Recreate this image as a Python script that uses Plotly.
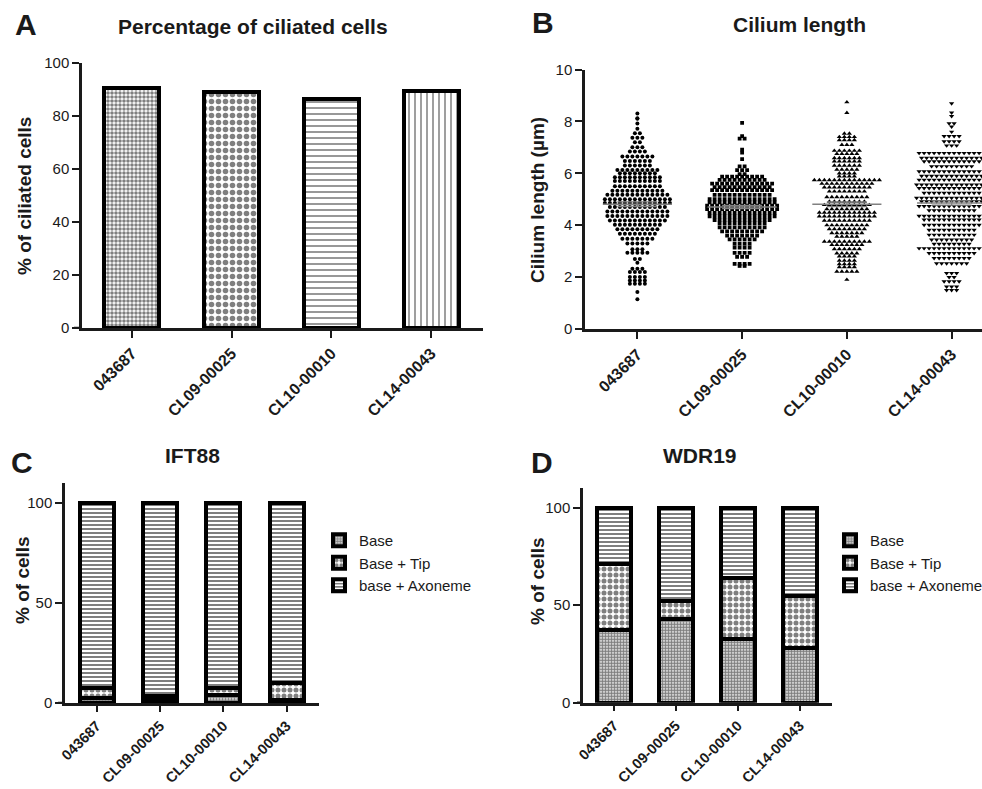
import numpy as np
import plotly.graph_objects as go

W, H = 982, 789

# ---------------- data ----------------
categories = ["043687", "CL09-00025", "CL10-00010", "CL14-00043"]

ciliated_pct = [90.5, 89.0, 86.5, 89.5]

len_043687 = [
    8.30,
    8.10, 8.12,
    7.92,
    7.72,
    7.54, 7.54,
    7.37, 7.37, 7.37,
    7.20, 7.20,
    7.00, 7.00, 7.00,
    6.84, 6.84, 6.84, 6.84,
    6.65, 6.65, 6.65, 6.65, 6.65, 6.65, 6.65,
    6.47, 6.47, 6.47, 6.47, 6.47, 6.47,
    6.30, 6.30, 6.30, 6.30, 6.30, 6.30,
    6.13, 6.13, 6.13, 6.13, 6.13, 6.13, 6.13, 6.13, 6.13,
    6.00, 6.00, 6.00, 6.00, 6.00, 6.00, 6.00, 6.00,
    5.85, 5.85, 5.85, 5.85, 5.85, 5.85, 5.85, 5.85, 5.85, 5.85,
    5.70, 5.70, 5.70, 5.70, 5.70, 5.70, 5.70, 5.70, 5.70, 5.70,
    5.50, 5.50, 5.50, 5.50, 5.50, 5.50, 5.50, 5.50, 5.50, 5.50,
    5.33, 5.33, 5.33, 5.33, 5.33, 5.33, 5.33, 5.33, 5.33, 5.33, 5.33,
    5.17, 5.17, 5.17, 5.17, 5.17, 5.17, 5.17, 5.17, 5.17, 5.17, 5.17, 5.17, 5.17,
    5.00, 5.00, 5.00, 5.00, 5.00, 5.00, 5.00, 5.00, 5.00, 5.00, 5.00, 5.00, 5.00, 5.00,
    4.86, 4.86, 4.86, 4.86, 4.86, 4.86, 4.86, 4.86, 4.86, 4.86, 4.86, 4.86, 4.86, 4.86,
    4.70, 4.70, 4.70, 4.70, 4.70, 4.70, 4.70, 4.70, 4.70, 4.70, 4.70, 4.70,
    4.53, 4.53, 4.53, 4.53, 4.53, 4.53, 4.53, 4.53, 4.53, 4.53, 4.53, 4.53, 4.53,
    4.35, 4.35, 4.35, 4.35, 4.35, 4.35, 4.35, 4.35, 4.35, 4.35, 4.35, 4.35, 4.35,
    4.18, 4.18, 4.18, 4.18, 4.18, 4.18, 4.18, 4.18, 4.18, 4.18, 4.18, 4.18,
    4.02, 4.02, 4.02, 4.02, 4.02, 4.02, 4.02, 4.02, 4.02, 4.02,
    3.84, 3.84, 3.84, 3.84, 3.84, 3.84, 3.84, 3.84, 3.84,
    3.67, 3.67, 3.67, 3.67, 3.67, 3.67, 3.67, 3.67,
    3.48, 3.48, 3.48, 3.48, 3.48, 3.48, 3.48,
    3.29, 3.29, 3.29, 3.29, 3.29,
    3.07, 3.07, 3.07,
    2.94, 2.94, 2.94, 2.94, 2.94,
    2.70, 2.70,
    2.55,
    2.32, 2.32, 2.32,
    2.20, 2.20, 2.20, 2.20,
    2.00, 2.00, 2.00, 2.00,
    1.87, 1.87, 1.87, 1.87,
    1.74, 1.74, 1.74, 1.74,
    1.43,
    1.15,
]

len_CL09 = [
    7.94,
    7.43,
    7.34, 7.34,
    6.91,
    6.80,
    6.55,
    6.27, 6.27,
    6.12, 6.12, 6.12,
    5.97, 5.97,
    5.87, 5.87, 5.87, 5.87, 5.87, 5.87, 5.87, 5.87, 5.87,
    5.75, 5.75, 5.75, 5.75, 5.75, 5.75, 5.75, 5.75, 5.75, 5.75,
    5.60, 5.60, 5.60, 5.60, 5.60, 5.60, 5.60, 5.60, 5.60, 5.60, 5.60, 5.60, 5.60,
    5.47, 5.47, 5.47, 5.47, 5.47, 5.47, 5.47, 5.47, 5.47, 5.47, 5.47, 5.47,
    5.35, 5.35, 5.35, 5.35, 5.35, 5.35, 5.35, 5.35, 5.35, 5.35, 5.35, 5.35, 5.35,
    5.17, 5.17, 5.17, 5.17, 5.17, 5.17, 5.17, 5.17, 5.17, 5.17, 5.17, 5.17,
    5.00, 5.00, 5.00, 5.00, 5.00, 5.00, 5.00, 5.00, 5.00, 5.00, 5.00, 5.00, 5.00, 5.00,
    4.88, 4.88, 4.88, 4.88, 4.88, 4.88, 4.88, 4.88, 4.88, 4.88, 4.88, 4.88, 4.88, 4.88,
    4.75, 4.75, 4.75, 4.75, 4.75, 4.75, 4.75, 4.75, 4.75, 4.75, 4.75, 4.75, 4.75, 4.75, 4.75,
    4.62, 4.62, 4.62, 4.62, 4.62, 4.62, 4.62, 4.62, 4.62, 4.62, 4.62, 4.62, 4.62, 4.62, 4.62,
    4.47, 4.47, 4.47, 4.47, 4.47, 4.47, 4.47, 4.47, 4.47, 4.47, 4.47, 4.47, 4.47, 4.47,
    4.34, 4.34, 4.34, 4.34, 4.34, 4.34, 4.34, 4.34, 4.34, 4.34, 4.34, 4.34, 4.34, 4.34,
    4.20, 4.20, 4.20, 4.20, 4.20, 4.20, 4.20, 4.20, 4.20, 4.20, 4.20, 4.20,
    4.07, 4.07, 4.07, 4.07, 4.07, 4.07, 4.07, 4.07, 4.07, 4.07,
    3.92, 3.92, 3.92, 3.92, 3.92, 3.92, 3.92, 3.92, 3.92, 3.92,
    3.76, 3.76, 3.76, 3.76, 3.76, 3.76, 3.76, 3.76, 3.76,
    3.60, 3.60, 3.60, 3.60, 3.60, 3.60, 3.60,
    3.45, 3.45, 3.45, 3.45, 3.45, 3.45,
    3.29, 3.29, 3.29, 3.29,
    3.14, 3.14, 3.14, 3.14,
    2.93, 2.93, 2.93, 2.93,
    2.78, 2.78, 2.78,
    2.51, 2.51, 2.51, 2.51,
    2.43, 2.43,
]

len_CL10 = [
    8.74,
    8.33,
    7.53, 7.53,
    7.40, 7.40, 7.40, 7.40,
    7.28, 7.28, 7.28, 7.28,
    7.10, 7.10, 7.10,
    6.87, 6.87, 6.87, 6.87, 6.87, 6.87,
    6.75, 6.75, 6.75, 6.75, 6.75,
    6.59, 6.59, 6.59, 6.59, 6.59, 6.59,
    6.46, 6.46, 6.46, 6.46, 6.46, 6.46,
    6.30, 6.30, 6.30, 6.30, 6.30, 6.30,
    6.14, 6.14, 6.14, 6.14, 6.14,
    6.00, 6.00, 6.00, 6.00,
    5.88, 5.88, 5.88, 5.88,
    5.74, 5.74, 5.74, 5.74, 5.74, 5.74, 5.74, 5.74, 5.74, 5.74, 5.74, 5.74, 5.74, 5.74,
    5.60, 5.60, 5.60, 5.60, 5.60, 5.60, 5.60, 5.60, 5.60, 5.60, 5.60,
    5.46, 5.46, 5.46, 5.46, 5.46, 5.46, 5.46, 5.46, 5.46, 5.46,
    5.30, 5.30, 5.30, 5.30, 5.30, 5.30, 5.30, 5.30,
    5.08, 5.08, 5.08, 5.08, 5.08, 5.08, 5.08, 5.08, 5.08,
    4.91, 4.91, 4.91, 4.91, 4.91, 4.91, 4.91, 4.91,
    4.78, 4.78, 4.78, 4.78, 4.78, 4.78, 4.78, 4.78, 4.78, 4.78,
    4.62, 4.62, 4.62, 4.62, 4.62, 4.62, 4.62, 4.62, 4.62,
    4.49, 4.49, 4.49, 4.49, 4.49, 4.49, 4.49, 4.49, 4.49, 4.49, 4.49, 4.49,
    4.34, 4.34, 4.34, 4.34, 4.34, 4.34, 4.34, 4.34, 4.34, 4.34, 4.34, 4.34,
    4.18, 4.18, 4.18, 4.18, 4.18, 4.18, 4.18, 4.18, 4.18, 4.18,
    4.00, 4.00, 4.00, 4.00, 4.00, 4.00, 4.00, 4.00, 4.00,
    3.85, 3.85, 3.85, 3.85, 3.85, 3.85, 3.85, 3.85,
    3.70, 3.70, 3.70, 3.70, 3.70, 3.70, 3.70,
    3.56, 3.56, 3.56, 3.56, 3.56,
    3.37, 3.37, 3.37, 3.37, 3.37, 3.37, 3.37, 3.37, 3.37, 3.37,
    3.24, 3.24, 3.24, 3.24, 3.24, 3.24, 3.24,
    3.08, 3.08, 3.08, 3.08, 3.08, 3.08,
    2.92, 2.92, 2.92, 2.92, 2.92,
    2.80, 2.80, 2.80, 2.80,
    2.64, 2.64, 2.64, 2.64,
    2.50, 2.50, 2.50, 2.50,
    2.39, 2.39, 2.39, 2.39,
    2.21, 2.21, 2.21, 2.21, 2.21,
    1.90,
]

len_CL14 = [
    8.69,
    8.34,
    8.20,
    7.92, 7.92,
    7.80,
    7.60,
    7.43, 7.43, 7.43, 7.43,
    7.23, 7.23, 7.23, 7.23,
    7.07, 7.07, 7.07,
    6.78, 6.78, 6.78, 6.78, 6.78, 6.78, 6.78, 6.78, 6.78, 6.78, 6.78, 6.78, 6.78, 6.78,
    6.59, 6.59, 6.59, 6.59, 6.59, 6.59, 6.59, 6.59, 6.59, 6.59, 6.59, 6.59, 6.59,
    6.46, 6.46, 6.46, 6.46, 6.46, 6.46, 6.46, 6.46, 6.46, 6.46, 6.46, 6.46,
    6.27, 6.27, 6.27, 6.27, 6.27, 6.27, 6.27, 6.27, 6.27,
    6.07, 6.07, 6.07, 6.07, 6.07, 6.07, 6.07, 6.07, 6.07, 6.07, 6.07, 6.07, 6.07, 6.07,
    5.90, 5.90, 5.90, 5.90, 5.90, 5.90, 5.90, 5.90, 5.90, 5.90, 5.90, 5.90, 5.90,
    5.75, 5.75, 5.75, 5.75, 5.75, 5.75, 5.75, 5.75, 5.75, 5.75, 5.75, 5.75, 5.75, 5.75,
    5.56, 5.56, 5.56, 5.56, 5.56, 5.56, 5.56, 5.56, 5.56, 5.56, 5.56, 5.56, 5.56, 5.56, 5.56,
    5.43, 5.43, 5.43, 5.43, 5.43, 5.43, 5.43, 5.43, 5.43, 5.43, 5.43, 5.43, 5.43, 5.43,
    5.24, 5.24, 5.24, 5.24, 5.24, 5.24, 5.24, 5.24, 5.24, 5.24, 5.24, 5.24,
    5.05, 5.05, 5.05, 5.05, 5.05, 5.05, 5.05, 5.05, 5.05, 5.05, 5.05, 5.05, 5.05, 5.05, 5.05,
    4.92, 4.92, 4.92, 4.92, 4.92, 4.92, 4.92, 4.92, 4.92, 4.92, 4.92, 4.92, 4.92,
    4.73, 4.73, 4.73, 4.73, 4.73, 4.73, 4.73, 4.73, 4.73, 4.73, 4.73, 4.73, 4.73, 4.73,
    4.57, 4.57, 4.57, 4.57, 4.57, 4.57, 4.57, 4.57, 4.57, 4.57,
    4.36, 4.36, 4.36, 4.36, 4.36, 4.36, 4.36, 4.36, 4.36, 4.36, 4.36, 4.36, 4.36, 4.36,
    4.21, 4.21, 4.21, 4.21, 4.21, 4.21, 4.21, 4.21, 4.21, 4.21, 4.21, 4.21,
    4.01, 4.01, 4.01, 4.01, 4.01, 4.01, 4.01, 4.01, 4.01, 4.01, 4.01, 4.01,
    3.82, 3.82, 3.82, 3.82, 3.82, 3.82, 3.82, 3.82, 3.82, 3.82,
    3.63, 3.63, 3.63, 3.63, 3.63, 3.63, 3.63, 3.63, 3.63, 3.63,
    3.44, 3.44, 3.44, 3.44, 3.44, 3.44, 3.44, 3.44, 3.44,
    3.28, 3.28, 3.28, 3.28, 3.28, 3.28, 3.28, 3.28,
    3.11, 3.11, 3.11, 3.11, 3.11, 3.11, 3.11, 3.11, 3.11, 3.11, 3.11, 3.11, 3.11, 3.11,
    2.92, 2.92, 2.92, 2.92, 2.92, 2.92, 2.92, 2.92, 2.92, 2.92,
    2.73, 2.73, 2.73, 2.73, 2.73, 2.73, 2.73, 2.73,
    2.53, 2.53, 2.53, 2.53, 2.53, 2.53, 2.53,
    2.15, 2.15, 2.15,
    2.00, 2.00,
    1.83, 1.83, 1.83, 1.83,
    1.63, 1.63, 1.63,
    1.50, 1.50, 1.50,
]

ift88_base = [2.5, 1.5, 4.0, 1.5]
ift88_tip = [5.0, 2.0, 3.5, 8.5]
ift88_axoneme = [92.5, 96.5, 92.5, 90.0]

wdr19_base = [37.0, 43.0, 32.5, 28.0]
wdr19_tip = [34.0, 9.0, 31.5, 26.5]
wdr19_axoneme = [29.0, 48.0, 36.0, 45.5]

stack_names = ["Base", "Base + Tip", "base + Axoneme"]

# ---------------- helpers ----------------
FONT = "Liberation Sans, Arial, Helvetica, sans-serif"
INK = "#1a1a1a"


def px(x, y):
    return x / W, 1 - y / H


def row_offsets(values, spacing_px, xpx):
    """GraphPad-style scatter: points with equal values are spread in a centred row."""
    vals = np.asarray(values, float)
    out = np.zeros(len(vals))
    for v in np.unique(vals):
        idx = np.where(vals == v)[0]
        n = len(idx)
        for j, k in enumerate(idx):
            out[k] = (j - (n - 1) / 2.0) * spacing_px / xpx
    return out


fig = go.Figure()

# ---------------- Panel A ----------------
xi = list(range(len(categories)))
fig.add_trace(go.Bar(
    x=xi, y=ciliated_pct, width=0.55, xaxis="x", yaxis="y", showlegend=False,
    marker=dict(
        color="white",
        line=dict(color="black", width=4),
        pattern=dict(shape=[".", ".", "-", "|"], size=[4, 7, 6, 6],
                     solidity=[0.62, 0.5, 0.27, 0.25], fgcolor="black", bgcolor="white"),
    ),
))

# ---------------- Panel B ----------------
groups = [len_043687, len_CL09, len_CL10, len_CL14]
symbols = ["circle", "square", "triangle-up", "triangle-down"]
sizes = [4.0, 3.8, 4.6, 4.6]
xpx_B = (982 - 585) / (3.29 + 0.5)
for i, vals in enumerate(groups):
    off = row_offsets(vals, 5.0, xpx_B)
    fig.add_trace(go.Scatter(
        x=i + off, y=vals, mode="markers", xaxis="x2", yaxis="y2", showlegend=False,
        marker=dict(symbol=symbols[i], size=sizes[i], color="black", line=dict(width=0)),
    ))
    m = float(np.mean(vals))
    sem = float(np.std(vals, ddof=1) / np.sqrt(len(vals)))
    fig.add_trace(go.Scatter(
        x=[i - 0.33, i + 0.33], y=[m, m], mode="lines", xaxis="x2", yaxis="y2",
        showlegend=False, line=dict(color="#808080", width=1.6),
    ))
    fig.add_trace(go.Scatter(
        x=[i], y=[m], mode="markers", xaxis="x2", yaxis="y2", showlegend=False,
        marker=dict(size=0.1, color="rgba(0,0,0,0)"),
        error_y=dict(type="data", array=[sem], width=20, thickness=1.3, color="#808080"),
    ))

# ---------------- Panels C & D ----------------
pat_shapes = [".", ".", "-"]
pat_sizes = [3, 6, 4]
pat_sol = [0.7, 0.55, 0.5]
for (xa, ya, leg, data) in [
    ("x3", "y3", "legend", [ift88_base, ift88_tip, ift88_axoneme]),
    ("x4", "y4", "legend2", [wdr19_base, wdr19_tip, wdr19_axoneme]),
]:
    for j, seg in enumerate(data):
        fig.add_trace(go.Bar(
            x=xi, y=seg, width=0.54, name=stack_names[j], xaxis=xa, yaxis=ya,
            legend=leg, showlegend=True,
            marker=dict(
                color="white",
                line=dict(color="black", width=4),
                pattern=dict(shape=pat_shapes[j], size=pat_sizes[j], solidity=pat_sol[j],
                             fgcolor="black", bgcolor="white"),
            ),
        ))

# ---------------- axes ----------------
def xaxis_style(dom, rng, anchor, fs=16, tl=7):
    return dict(domain=dom, range=rng, anchor=anchor, type="linear", automargin=False,
                tickmode="array", tickvals=xi, ticktext=categories, tickangle=-45,
                tickfont=dict(family=FONT, size=fs, color=INK, weight="bold"),
                showline=True, linecolor=INK, linewidth=2.5,
                ticks="outside", ticklen=tl, tickwidth=2, tickcolor=INK,
                showgrid=False, zeroline=False, fixedrange=True)


def yaxis_style(dom, rng, anchor, dtick):
    return dict(domain=dom, range=rng, anchor=anchor, dtick=dtick, tick0=0, automargin=False,
                tickfont=dict(family=FONT, size=15, color=INK),
                showline=True, linecolor=INK, linewidth=2.5,
                ticks="outside", ticklen=7, tickwidth=2, tickcolor=INK,
                showgrid=False, zeroline=False, fixedrange=True)


layout = dict(
    width=W, height=H, margin=dict(l=0, r=0, t=0, b=0, pad=0, autoexpand=False),
    paper_bgcolor="white", plot_bgcolor="white",
    barmode="stack", font=dict(family=FONT, color=INK),
    xaxis=xaxis_style([82 / W, 483 / W], [-0.5, 3.52], "y"),
    yaxis=yaxis_style([1 - 328 / H, 1 - 63 / H], [0, 100], "x", 20),
    xaxis2=xaxis_style([585 / W, 1.0], [-0.5, 3.29], "y2"),
    yaxis2=yaxis_style([1 - 329 / H, 1 - 69.5 / H], [0, 10], "x2", 2),
    xaxis3=xaxis_style([65 / W, 319 / W], [-0.5, 3.51], "y3", fs=14.5, tl=6),
    yaxis3=yaxis_style([1 - 703 / H, 1 - 483 / H], [0, 110], "x3", 50),
    xaxis4=xaxis_style([583 / W, 832 / W], [-0.5, 3.52], "y4", fs=14.5, tl=6),
    yaxis4=yaxis_style([1 - 702.7 / H, 1 - 488 / H], [0, 110], "x4", 50),
    legend=dict(x=319 / W, y=1 - 524 / H, xanchor="left", yanchor="top",
                traceorder="normal", font=dict(family=FONT, size=15, color=INK),
                bgcolor="rgba(0,0,0,0)", itemclick=False),
    legend2=dict(x=830 / W, y=1 - 524 / H, xanchor="left", yanchor="top",
                 traceorder="normal", font=dict(family=FONT, size=15, color=INK),
                 bgcolor="rgba(0,0,0,0)", itemclick=False),
)
fig.update_layout(**layout)

# x-axis lines extend slightly left of the y-axis (A, C, D)
for xa, ya, ext in [("x", "y", 8 / 401), ("x3", "y3", 7 / 254), ("x4", "y4", 6 / 249)]:
    fig.add_shape(type="line", xref=f"{xa} domain", yref=ya, x0=-ext, x1=0, y0=0, y1=0,
                  line=dict(color=INK, width=2.5))

# ---------------- annotations ----------------
ann = []
for t, x, y in [("A", 26, 24), ("B", 543, 23), ("C", 22, 462), ("D", 542, 462)]:
    ax, ay = px(x, y)
    ann.append(dict(text=f"<b>{t}</b>", x=ax, y=ay, xref="paper", yref="paper",
                    xanchor="center", yanchor="middle",
                    showarrow=False, font=dict(family=FONT, size=30, color=INK)))
for t, x, y in [("Percentage of ciliated cells", 253, 26), ("Cilium length", 799, 25),
                ("IFT88", 192, 456), ("WDR19", 700, 456)]:
    ax, ay = px(x, y)
    ann.append(dict(text=f"<b>{t}</b>", x=ax, y=ay, xref="paper", yref="paper",
                    xanchor="center", yanchor="middle",
                    showarrow=False, font=dict(family=FONT, size=21, color=INK)))
for t, x, y in [("% of ciliated cells", 24, 196), ("Cilium length (µm)", 537, 200),
                ("% of cells", 22, 580), ("% of cells", 537, 581)]:
    ax, ay = px(x, y)
    ann.append(dict(text=f"<b>{t}</b>", x=ax, y=ay, xref="paper", yref="paper",
                    xanchor="center", yanchor="middle",
                    textangle=-90, showarrow=False, font=dict(family=FONT, size=19, color=INK)))
fig.update_layout(annotations=ann)

fig.write_html("out.html", config={"displayModeBar": False},
               post_script="document.body.style.margin='0';document.body.style.padding='0';")
